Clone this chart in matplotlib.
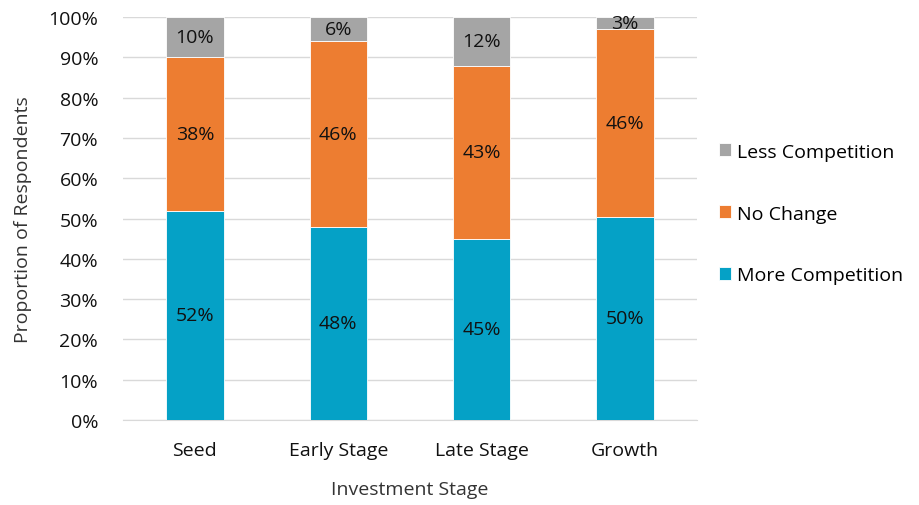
import matplotlib.pyplot as plt
import numpy as np

plt.rcParams['font.family'] = ['Open Sans', 'DejaVu Sans']

stages = ['Seed', 'Early Stage', 'Late Stage', 'Growth']
more_competition = [52, 48, 45, 50]
no_change = [38, 46, 43, 46]
less_competition = [10, 6, 12, 3]

colors = ['#05A1C6', '#ED7D31', '#A5A5A5']
names = ['More Competition', 'No Change', 'Less Competition']

series = np.array([more_competition, no_change, less_competition], dtype=float)
# bars are drawn as share of 100%
shares = series / series.sum(axis=0) * 100

fig = plt.figure(figsize=(9.19, 5.06), dpi=100)
ax = fig.add_axes([0.134, 0.168, 0.624, 0.796])

fs = 14
x = np.arange(len(stages))
bottom = np.zeros(len(stages))
handles = []
for vals, raw, c, n in zip(shares, series, colors, names):
    b = ax.bar(x, vals, 0.4, bottom=bottom, color=c, label=n, edgecolor='white', linewidth=0.6, zorder=3)
    handles.append(b)
    for xi, v, bt, r in zip(x, vals, bottom, raw):
        ax.text(xi, bt + v / 2, f'{int(r)}%', ha='center', va='center', fontsize=fs, color='#111111', zorder=4)
    bottom += vals

ax.set_xlim(-0.5, len(stages) - 0.5)
ax.set_ylim(0, 100)
ax.set_yticks(np.arange(0, 101, 10))
ax.set_yticklabels([f'{v}%' for v in range(0, 101, 10)])
ax.set_xticks(x)
ax.set_xticklabels(stages)
ax.tick_params(axis='both', length=0, labelsize=fs, colors='#111111')
ax.tick_params(axis='y', pad=18)
ax.tick_params(axis='x', pad=15)
ax.grid(axis='y', color='#D9D9D9', linewidth=1, zorder=0)
for s in ['top', 'right', 'left']:
    ax.spines[s].set_visible(False)
ax.spines['bottom'].set_color('#D9D9D9')

ax.set_ylabel('Proportion of Respondents', fontsize=fs, color='#333333', labelpad=12)
ax.set_xlabel('Investment Stage', fontsize=fs, color='#333333', labelpad=15)

fig.legend(handles[::-1], names[::-1], loc='center left', bbox_to_anchor=(0.782, 0.576),
           frameon=False, fontsize=fs, handlelength=0.65, handleheight=0.65,
           handletextpad=0.3, labelspacing=2.25, borderpad=0, borderaxespad=0)

fig.savefig('out.png', dpi=100)
